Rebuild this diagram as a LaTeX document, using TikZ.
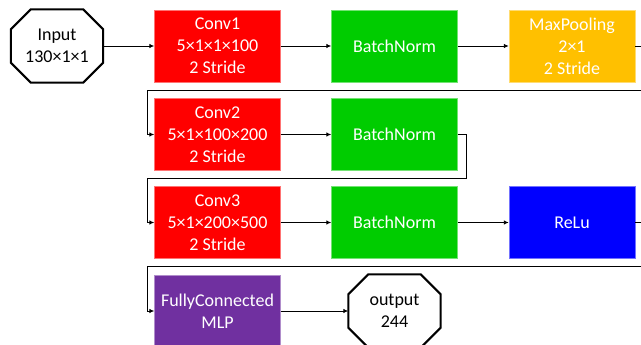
\documentclass[tikz,border=0pt]{standalone}
\usepackage{fontspec}
\setmainfont{Carlito}
\usetikzlibrary{arrows.meta}
\definecolor{convred}{RGB}{255,0,0}
\definecolor{normgreen}{RGB}{0,204,0}
\definecolor{poolorange}{RGB}{255,192,0}
\definecolor{relublue}{RGB}{0,0,255}
\definecolor{mlppurple}{RGB}{112,48,160}
\begin{document}
\begin{tikzpicture}[x=1pt,y=-1pt,
    layer/.style={rectangle, minimum width=126pt, minimum height=72pt,
      inner sep=0pt, align=center, text=white,
      font={\fontsize{18}{22}\selectfont}},
    octa/.style={rectangle, minimum width=92pt, minimum height=73pt,
      inner sep=0pt, align=center, font={\fontsize{18}{22}\selectfont}},
    octline/.style={line width=2pt, line join=miter},
    conn/.style={-{Latex[length=5pt,width=4.5pt]}, line width=0.9pt}]
    \clip (0,0) rectangle (641,345);

    % Row 1
    \node[octa] (in) at (57,46) {Input\\130×1×1};
    \node[layer, fill=convred, draw=convred!55!white] (conv1) at (217.5,46)
        {Conv1\\5×1×1×100\\2 Stride};
    \node[layer, fill=normgreen, draw=normgreen!55!white] (bn1) at (394.5,46)
        {BatchNorm};
    \node[layer, fill=poolorange, draw=poolorange!55!white] (mp) at (572,46)
        {MaxPooling\\2×1\\2 Stride};

    % Row 2
    \node[layer, fill=convred, draw=convred!55!white] (conv2) at (217.5,134.5)
        {Conv2\\5×1×100×200\\2 Stride};
    \node[layer, fill=normgreen, draw=normgreen!55!white] (bn2) at (394.5,134.5)
        {BatchNorm};

    % Row 3
    \node[layer, fill=convred, draw=convred!55!white] (conv3) at (217.5,222.5)
        {Conv3\\5×1×200×500\\2 Stride};
    \node[layer, fill=normgreen, draw=normgreen!55!white] (bn3) at (394.5,222.5)
        {BatchNorm};
    \node[layer, fill=relublue, draw=relublue!55!white] (relu) at (572,222.5)
        {ReLu};

    % Row 4
    \node[layer, fill=mlppurple, draw=mlppurple!55!white] (fc) at (217.5,311)
        {FullyConnected\\MLP};
    \node[octa] (out) at (394.5,311) {output\\244};

    % Octagon outlines
    \foreach \o in {in,out}
      \draw[octline] ([xshift=20pt]\o.north west) -- ([xshift=-20pt]\o.north east)
        -- ([yshift=-20pt]\o.north east) -- ([yshift=20pt]\o.south east)
        -- ([xshift=-20pt]\o.south east) -- ([xshift=20pt]\o.south west)
        -- ([yshift=20pt]\o.south west) -- ([yshift=-20pt]\o.north west) -- cycle;

    % Bends
    \coordinate (r1) at (652,90);
    \coordinate (l1) at (147,90);
    \coordinate (r2) at (466,178);
    \coordinate (l2) at (147,178);
    \coordinate (r3) at (652,266.5);
    \coordinate (l3) at (147,266.5);

    % Connectors
    \draw[conn] (in) -- (conv1);
    \draw[conn] (conv1) -- (bn1);
    \draw[conn] (bn1) -- (mp);
    \draw[conn] (mp.east) -| (r1) -- (l1) |- (conv2.west);
    \draw[conn] (conv2) -- (bn2);
    \draw[conn] (bn2.east) -| (r2) -- (l2) |- (conv3.west);
    \draw[conn] (conv3) -- (bn3);
    \draw[conn] (bn3) -- (relu);
    \draw[conn] (relu.east) -| (r3) -- (l3) |- (fc.west);
    \draw[conn] (fc) -- (out);
  \end{tikzpicture}
\end{document}
